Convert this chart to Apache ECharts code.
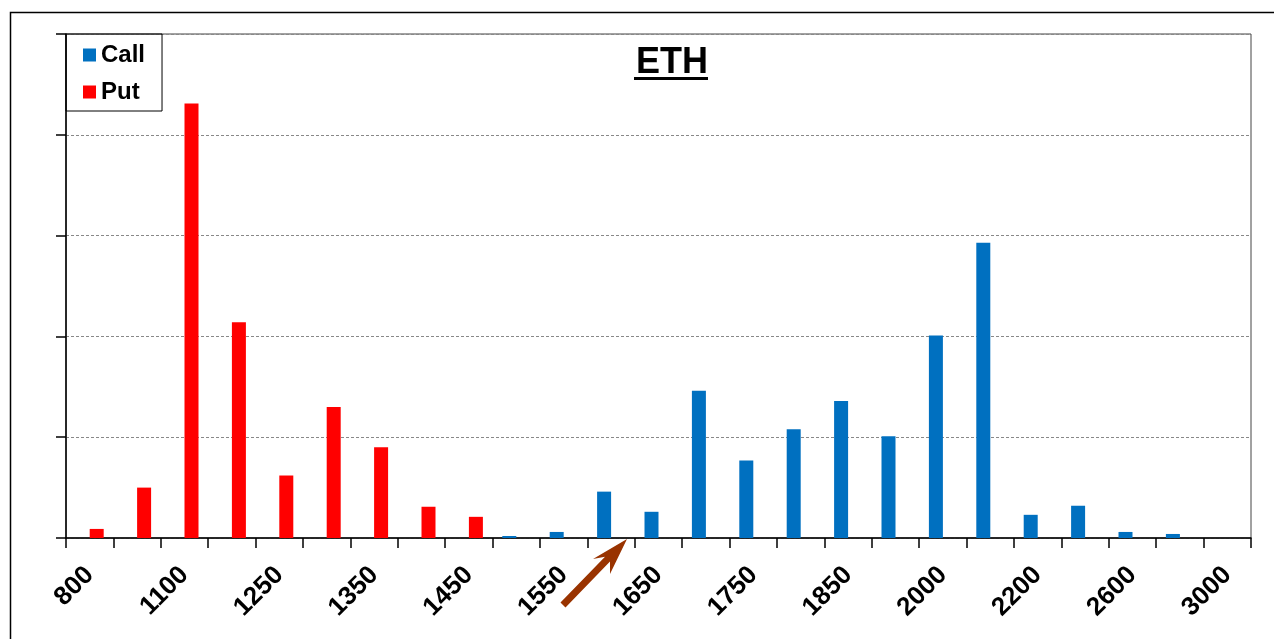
<!DOCTYPE html>
<html>
<head>
<meta charset="utf-8">
<script src="https://cdn.jsdelivr.net/npm/echarts@6/dist/echarts.min.js"></script>
<style>
  html, body { margin: 0; padding: 0; background: #fff; }
  #chart { width: 1274px; height: 639px; }
</style>
</head>
<body>
<div id="chart"></div>
<script>
// strikes on the x axis
const strikes = ['800', '1000', '1100', '1200', '1250', '1300', '1350', '1400', '1450', '1500',
  '1550', '1600', '1650', '1700', '1750', '1800', '1850', '1900', '2000', '2100',
  '2200', '2400', '2600', '2800', '3000']

// open interest (y axis has no labels, 0..500 scale)
const callValues = [null, null, null, null, null, null, null, null, null, 2,
  6, 46, 26, 146, 77, 108, 136, 101, 201, 293,
  23, 32, 6, 4, null]
const putValues = [9, 50, 431, 214, 62, 130, 90, 31, 21, null,
  null, null, null, null, null, null, null, null, null, null,
  null, null, null, null, null]

const FONT = '"Liberation Sans", Arial, sans-serif'

const chart = echarts.init(document.getElementById('chart'))

const option = {
  backgroundColor: '#fff',
  animation: false,
  title: {
    text: 'ETH',
    left: 667,
    top: 40,
    textAlign: 'center',
    textStyle: { fontFamily: FONT, fontSize: 36, fontWeight: 'bold', color: '#000' }
  },
  legend: {
    orient: 'vertical',
    left: 66,
    top: 34,
    padding: [9, 17, 7, 17],
    itemGap: 13,
    itemWidth: 13,
    itemHeight: 13,
    icon: 'rect',
    borderColor: '#000',
    borderWidth: 1,
    textStyle: { fontFamily: FONT, fontSize: 24, fontWeight: 'bold', color: '#000' },
    data: ['Call', 'Put']
  },
  grid: {
    left: 66,
    right: 23,
    top: 34,
    bottom: 101,
    show: true,
    borderColor: '#444',
    borderWidth: 1
  },
  xAxis: {
    type: 'category',
    data: strikes,
    axisLine: { lineStyle: { color: '#000', width: 1.5 } },
    axisTick: { show: true, interval: 0, length: 10, lineStyle: { color: '#000', width: 1.5 } },
    axisLabel: {
      interval: 1,
      rotate: 45,
      margin: 33,
      fontFamily: FONT,
      fontSize: 26,
      fontWeight: 'bold',
      color: '#000'
    }
  },
  yAxis: {
    type: 'value',
    min: 0,
    max: 500,
    interval: 100,
    axisLine: { show: true, lineStyle: { color: '#000', width: 1.5 } },
    axisTick: { show: true, length: 10, lineStyle: { color: '#000', width: 1.5 } },
    axisLabel: { show: false },
    splitLine: { lineStyle: { color: '#888', type: [3, 2], width: 1 } }
  },
  series: [
    {
      name: 'Call',
      type: 'bar',
      data: callValues,
      barWidth: 14,
      barGap: '0%',
      itemStyle: { color: '#0070C0' }
    },
    {
      name: 'Put',
      type: 'bar',
      data: putValues,
      barWidth: 14,
      barGap: '0%',
      itemStyle: { color: '#FF0000' }
    }
  ],
  graphic: [
    // outer frame of the picture
    {
      type: 'rect',
      shape: { x: 10.5, y: 12.5, width: 1275, height: 640 },
      style: { fill: 'none', stroke: '#000', lineWidth: 1.5 },
      silent: true
    },
    // title underline
    {
      type: 'rect',
      shape: { x: 634, y: 77, width: 74, height: 3 },
      style: { fill: '#000' },
      silent: true
    },
    // pointer arrow
    {
      type: 'polygon',
      shape: {
        points: [[627, 539], [610, 574], [610, 561.5], [565.5, 607.4], [560.5, 602.6], [605, 556.7], [593, 559]]
      },
      style: { fill: '#993300' },
      silent: true
    }
  ]
}

chart.setOption(option)
window.addEventListener('resize', () => chart.resize())
</script>
</body>
</html>
